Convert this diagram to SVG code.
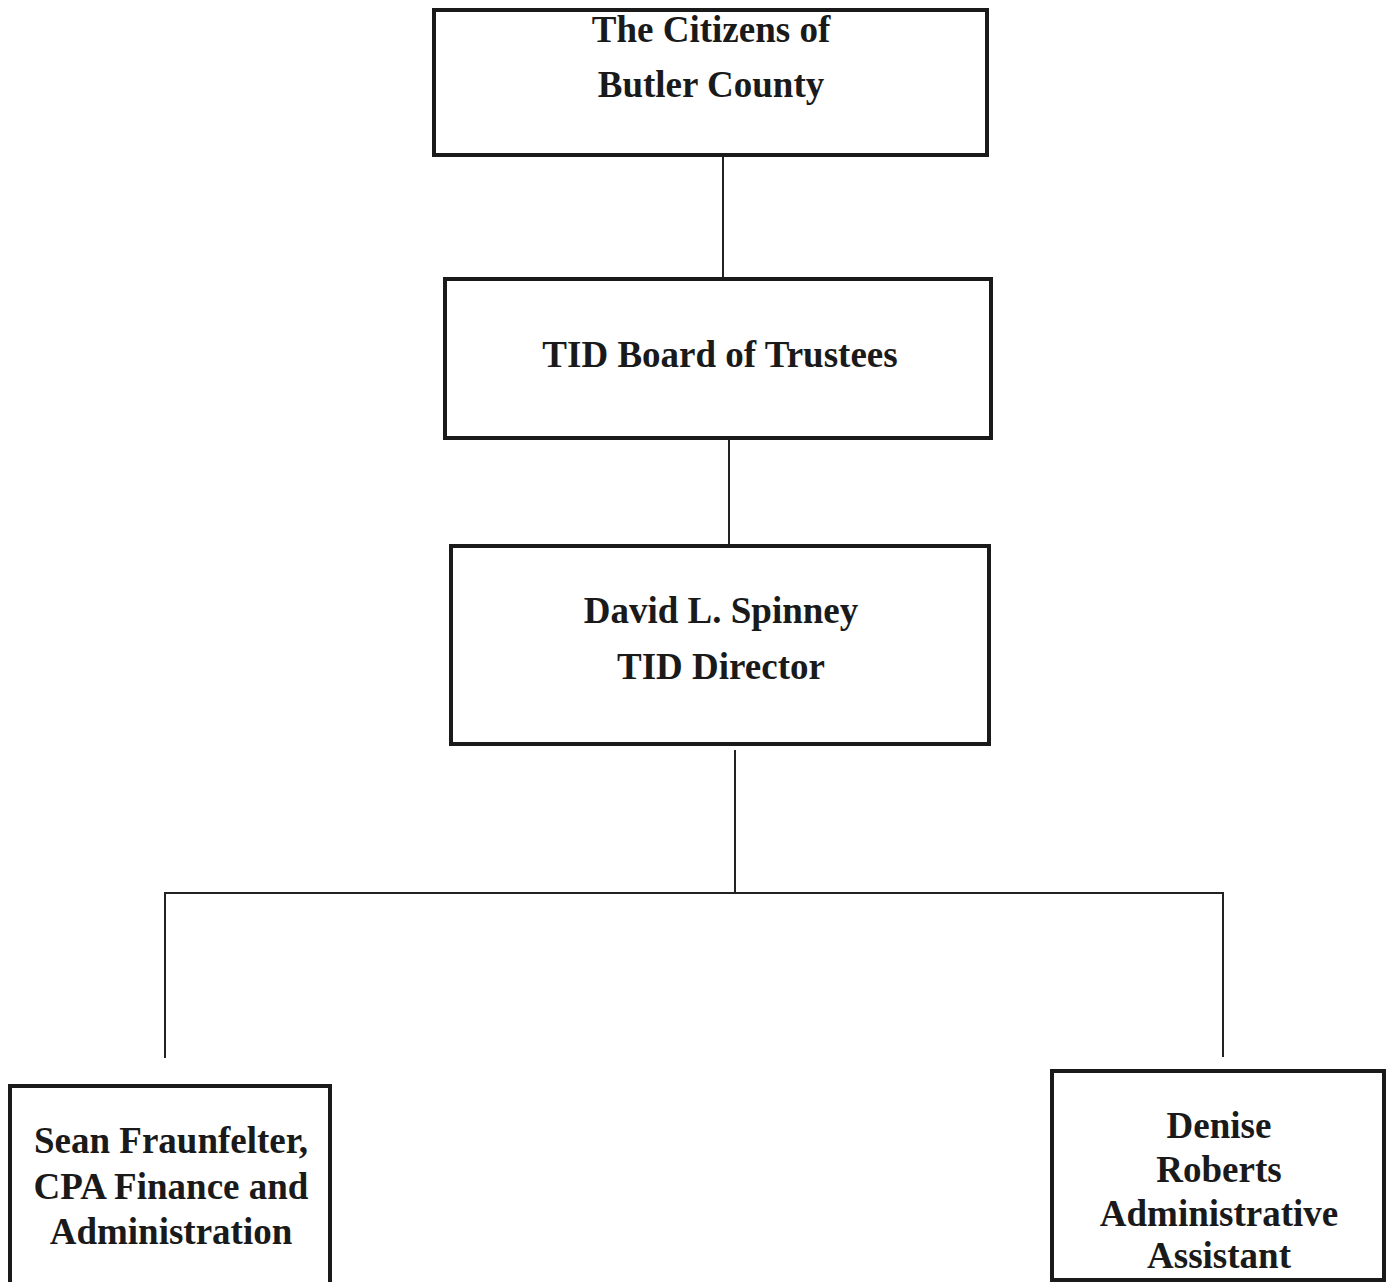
<svg xmlns="http://www.w3.org/2000/svg" width="1390" height="1282" viewBox="0 0 1390 1282">
<style>
.box{fill:#fff;stroke:#1a1a1a;stroke-width:4}
.t{font-family:"Liberation Serif","Times New Roman",serif;font-weight:bold;font-size:37px;fill:#1a1a1a;text-anchor:middle}
.c{stroke:#222;stroke-width:2;fill:none}
</style>
<rect width="1390" height="1282" fill="#fff"/>
<g id="connectors">
<line class="c" x1="723" y1="155" x2="723" y2="279"/>
<line class="c" x1="729" y1="438" x2="729" y2="546"/>
<line class="c" x1="735" y1="750" x2="735" y2="893"/>
<polyline class="c" points="165,1058 165,893 1223,893 1223,1057"/>
</g>
<g id="citizens">
<rect class="box" x="434" y="10" width="553" height="145"/>
<text class="t" x="711" y="42">The Citizens of</text>
<text class="t" x="711" y="97">Butler County</text>
</g>
<g id="board">
<rect class="box" x="445" y="279" width="546" height="159"/>
<text class="t" x="720" y="367">TID Board of Trustees</text>
</g>
<g id="director">
<rect class="box" x="451" y="546" width="538" height="198"/>
<text class="t" x="721" y="623">David L. Spinney</text>
<text class="t" x="721" y="679">TID Director</text>
</g>
<g id="finance">
<rect class="box" x="10" y="1086" width="320" height="210"/>
<text class="t" x="171" y="1153">Sean Fraunfelter,</text>
<text class="t" x="171" y="1199">CPA Finance and</text>
<text class="t" x="171" y="1244">Administration</text>
</g>
<g id="admin">
<rect class="box" x="1052" y="1071" width="332" height="209"/>
<text class="t" x="1219" y="1138">Denise</text>
<text class="t" x="1219" y="1182">Roberts</text>
<text class="t" x="1219" y="1226">Administrative</text>
<text class="t" x="1219" y="1268">Assistant</text>
</g>
</svg>
